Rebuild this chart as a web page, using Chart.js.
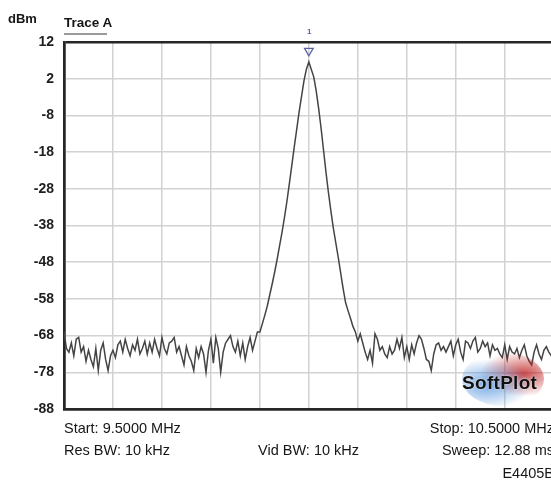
<!DOCTYPE html>
<html>
<head>
<meta charset="utf-8">
<script src="https://cdn.jsdelivr.net/npm/chart.js@4"></script>
<style>
  html, body { margin: 0; padding: 0; background: #fff; overflow: hidden; }
  #wrap { position: absolute; left: 0; top: 0; width: 560px; height: 481px; }
  .txt { position: absolute; font-family: Arial, "Liberation Sans", sans-serif; color: #161616; white-space: nowrap; }
  .r { text-align: right; }
</style>
</head>
<body>
<div id="wrap">
  <canvas id="spectrum_chart"></canvas>
  <div class="txt" style="left:8px;top:11px;font-size:13px;font-weight:bold;">dBm</div>
  <div class="txt" style="left:64px;top:14.5px;font-size:13.5px;font-weight:bold;">Trace A</div>
  <div style="position:absolute;left:64px;top:33px;width:43px;height:2px;background:#9a9a9a;"></div>
  <div class="txt" style="left:307px;top:27px;font-size:8px;font-weight:bold;color:#5b63a8;">1</div>
  <div style="position:absolute;left:462px;top:352px;width:82px;height:54px;border-radius:50%;
       background:radial-gradient(ellipse at 30% 60%, rgba(70,140,220,0.75), rgba(70,140,220,0) 55%),
                  radial-gradient(ellipse at 75% 40%, rgba(190,30,30,0.8), rgba(190,30,30,0) 50%);"></div>
  <div class="txt" style="left:462px;top:372px;font-size:19px;font-weight:900;color:#111;letter-spacing:0.3px;text-shadow:0 0 2px #fff;">SoftPlot</div>
  <div class="txt" style="left:64px;top:420px;font-size:14.5px;">Start: 9.5000 MHz</div>
  <div class="txt" style="left:64px;top:442px;font-size:14.5px;">Res BW: 10 kHz</div>
  <div class="txt" style="left:258px;top:442px;font-size:14.5px;">Vid BW: 10 kHz</div>
  <div class="txt r" style="right:6px;top:420px;font-size:14.5px;">Stop: 10.5000 MHz</div>
  <div class="txt r" style="right:6px;top:442px;font-size:14.5px;">Sweep: 12.88 ms</div>
  <div class="txt r" style="right:6px;top:465px;font-size:14.5px;">E4405B</div>
</div>
<script>
// sweep settings (MHz)
const start_freq = 9.5;
const step_freq = 0.005;

// trace levels in dBm, 9.500 .. 9.895 MHz
const noise_low = [
  -67.0, -71.5, -72.5, -70.0, -73.5, -69.0, -68.5, -72.5, -71.0, -75.0,
  -72.0, -74.5, -76.5, -71.5, -77.5, -72.0, -70.0, -74.5, -77.5, -73.5,
  -72.0, -74.0, -70.5, -69.5, -72.5, -69.0, -71.5, -73.5, -70.5, -72.0,
  -69.0, -73.0, -71.5, -69.5, -73.0, -70.0, -72.5, -69.0, -71.5, -73.5,
  -68.5, -71.5, -73.0, -70.0, -69.5, -68.5, -72.5, -71.0, -73.5, -76.0,
  -71.0, -73.5, -75.0, -77.5, -71.5, -74.0, -71.0, -73.0, -78.0, -72.0,
  -69.0, -75.5, -68.5, -71.5, -78.0, -72.5, -70.0, -69.0, -68.0, -71.0,
  -72.5, -69.5, -73.5, -70.0, -74.5, -71.0, -68.5, -72.0, -69.5, -67.0
];
// 9.900 .. 10.095 MHz
const peak_levels = [
  -67.0, -64.8, -62.5, -60.0, -57.0, -54.0, -50.8, -47.4, -43.7, -40.0,
  -36.0, -31.6, -26.8, -21.8, -16.8, -12.0, -7.2, -2.9, 1.4, 4.6,
  6.6, 4.5, 2.5, -1.3, -6.1, -11.5, -17.5, -23.5, -29.0, -34.0,
  -38.7, -42.7, -46.7, -50.9, -55.2, -59.0, -61.2, -63.3, -65.5, -67.0
];
// 10.100 .. 10.500 MHz
const noise_high = [
  -69.5, -67.5, -70.0, -72.5, -74.5, -72.0, -75.5, -67.5, -69.0, -72.0,
  -71.0, -73.0, -74.0, -71.0, -73.0, -72.0, -69.0, -71.5, -68.5, -74.0,
  -71.0, -74.5, -70.5, -73.0, -70.0, -68.0, -69.0, -71.5, -74.5, -75.0,
  -77.5, -73.0, -70.5, -70.0, -72.0, -71.0, -72.5, -71.0, -69.5, -73.5,
  -70.5, -69.0, -72.5, -74.5, -69.5, -70.0, -71.5, -69.5, -68.5, -72.5,
  -71.5, -69.5, -71.0, -70.0, -73.5, -70.5, -72.0, -71.5, -73.0, -74.0,
  -70.5, -74.5, -71.0, -72.5, -73.0, -71.5, -74.0, -72.0, -70.5, -73.5,
  -75.0, -76.0, -72.5, -70.5, -73.0, -74.5, -72.0, -71.0, -72.5, -73.5,
  -72.0
];

const y_ticks = [12, 2, -8, -18, -28, -38, -48, -58, -68, -78, -88];
const x_ticks = [9.5, 9.6, 9.7, 9.8, 9.9, 10.0, 10.1, 10.2, 10.3, 10.4, 10.5];
const marker_1 = [{ x: 10.0, y: 9.6 }];

let levels = noise_low.concat(peak_levels, noise_high);
let trace_points = [];
for (let i in levels) {
    trace_points.push({ x: +(start_freq + i * step_freq).toFixed(3), y: levels[i] });
}

const ctx = document.getElementById("spectrum_chart").getContext("2d");
const frame = '#262626';

new Chart(ctx, {
    type: 'line',
    data: {
        datasets: [{
            label: "Trace A",
            data: trace_points,
            borderColor: '#444',
            borderWidth: 1.5,
            pointRadius: 0,
            tension: 0,
            fill: false
        }, {
            type: 'scatter',
            label: "Marker 1",
            data: marker_1,
            pointStyle: 'triangle',
            rotation: 180,
            pointRadius: 5,
            borderColor: '#5b63a8',
            borderWidth: 1.3,
            backgroundColor: 'rgba(255,255,255,0)',
            clip: false
        }]
    },
    options: {
        responsive: true,
        maintainAspectRatio: false,
        animation: false,
        layout: { padding: { top: 42, bottom: 72, left: 0, right: 6 } },
        plugins: { legend: { display: false }, tooltip: { enabled: false } },
        scales: {
            x: {
                type: 'linear',
                min: 9.5,
                max: 10.5,
                afterBuildTicks: (scale) => { scale.ticks = x_ticks.map(v => ({ value: v })); },
                afterFit: (scale) => { scale.height = 0; },
                ticks: { display: false },
                border: { display: true, color: frame, width: 2.5 },
                grid: {
                    drawTicks: false,
                    color: (c) => c.tick && c.tick.value === 9.5 ? frame : '#d2d2d2',
                    lineWidth: (c) => c.tick && c.tick.value === 9.5 ? 2.5 : 1.5
                }
            },
            y: {
                min: -88,
                max: 12,
                afterBuildTicks: (scale) => { scale.ticks = y_ticks.map(v => ({ value: v })); },
                afterFit: (scale) => { scale.width = 64; },
                ticks: {
                    padding: 10,
                    color: '#1e1e1e',
                    font: { family: 'Arial, "Liberation Sans", sans-serif', size: 14, weight: 'bold' }
                },
                border: { display: true, color: frame, width: 2.5 },
                grid: {
                    drawTicks: false,
                    color: (c) => c.tick && (c.tick.value === 12 || c.tick.value === -88) ? frame : '#d2d2d2',
                    lineWidth: (c) => c.tick && (c.tick.value === 12 || c.tick.value === -88) ? 2.5 : 1.5
                }
            }
        }
    }
});
</script>
</body>
</html>
